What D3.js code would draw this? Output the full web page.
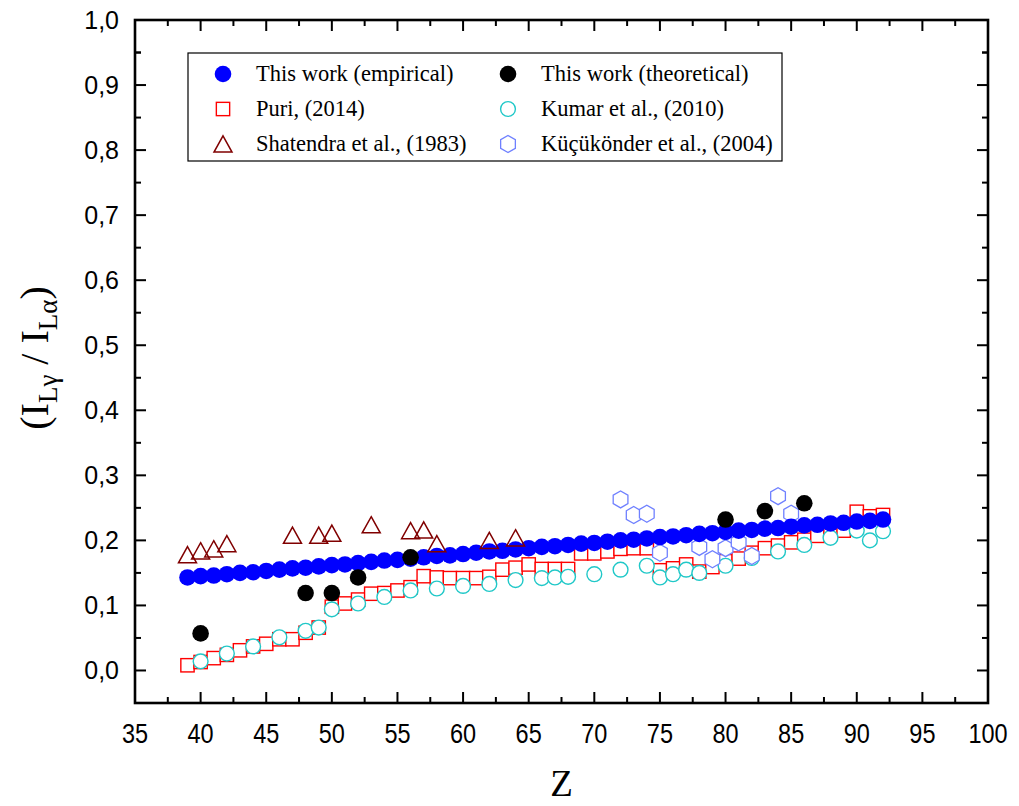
<!DOCTYPE html>
<meta charset="utf-8">
<script src="https://d3js.org/d3.v7.min.js"></script>
<style>
  body { margin: 0; background: #fff; }
</style>
<body>
<div id="draw"></div>
</body>
<script>

  // ---- data ----
  var empZ = [39,40,41,42,43,44,45,46,47,48,49,50,51,52,53,54,55,56,57,58,59,60,61,62,63,64,65,66,
              67,68,69,70,71,72,73,74,75,76,77,78,79,80,81,82,83,84,85,86,87,88,89,90,91,92];
  var empVal = [0.143,0.145,0.146,0.148,0.150,0.151,0.153,0.155,0.157,0.158,0.160,0.162,0.163,0.165,
                0.167,0.169,0.170,0.172,0.174,0.176,0.177,0.179,0.181,0.183,0.184,0.186,0.188,0.190,
                0.191,0.193,0.195,0.196,0.198,0.200,0.201,0.203,0.205,0.206,0.208,0.210,0.211,0.213,
                0.215,0.216,0.218,0.219,0.221,0.223,0.224,0.226,0.227,0.229,0.230,0.232];

  var theoZ = [40,48,50,52,56,80,83,86];
  var theoVal = [0.057,0.119,0.119,0.143,0.174,0.232,0.245,0.257];

  var puriZ = empZ;
  var puriVal = [0.008,0.013,0.019,0.024,0.031,0.037,0.041,0.048,0.048,0.058,0.066,0.098,0.103,0.109,
                 0.118,0.119,0.123,0.128,0.145,0.143,0.142,0.142,0.142,0.144,0.155,0.158,0.163,0.156,
                 0.156,0.156,0.180,0.180,0.183,0.187,0.188,0.188,0.154,0.157,0.163,0.152,0.159,0.168,
                 0.172,0.181,0.188,0.192,0.197,0.201,0.207,0.212,0.215,0.244,0.237,0.239];

  var kumarZ = [40,42,44,46,48,49,50,52,54,56,58,60,62,64,66,67,68,70,72,74,75,76,77,78,80,82,84,86,88,90,91,92];
  var kumarVal = [0.014,0.026,0.037,0.051,0.061,0.066,0.094,0.103,0.113,0.123,0.126,0.130,0.133,0.139,
                  0.142,0.143,0.144,0.148,0.155,0.161,0.143,0.148,0.155,0.150,0.161,0.173,0.183,0.193,
                  0.204,0.215,0.200,0.214];

  var shatZ = [39,40,41,42,47,49,50,53,56,57,58,62,64];
  var shatVal = [0.178,0.184,0.187,0.195,0.208,0.208,0.211,0.224,0.215,0.216,0.195,0.200,0.204];

  var kucZ = [72,73,74,75,78,79,80,81,82,84,85];
  var kucVal = [0.263,0.239,0.241,0.181,0.190,0.171,0.188,0.197,0.176,0.268,0.241];

  var xTicks = [35,40,45,50,55,60,65,70,75,80,85,90,95,100];
  var yTicks = [0,0.1,0.2,0.3,0.4,0.5,0.6,0.7,0.8,0.9,1.0];

  var seriesNames = ["This work (empirical)", "This work (theoretical)", "Puri, (2014)",
                     "Kumar et al., (2010)", "Shatendra et al., (1983)", "Küçükönder et al., (2004)"];

  // ---- layout ----
  var width = 1019, height = 806;
  var plot = {left: 135, right: 988, top: 20, bottom: 703};

  var svg = d3.select("#draw").append("svg")
    .attr("width", width).attr("height", height);

  var x = d3.scaleLinear().domain([35, 100]).range([plot.left, plot.right]);
  var y = d3.scaleLinear().domain([-0.05, 1.0]).range([plot.bottom, plot.top]);

  var zip = function(a, b){ return a.map(function(d, i){ return [d, b[i]]; }); };

  // marker shapes
  var triPath = function(s){
    var h = s * 0.9;
    return "M0," + (-h/2) + "L" + (s/2) + "," + (h/2) + "L" + (-s/2) + "," + (h/2) + "Z";
  };
  var hexPath = function(r){
    var p = [];
    for (var k = 0; k < 6; k++){
      var a = Math.PI/2 + k*Math.PI/3;
      p.push([r*Math.cos(a), r*Math.sin(a)]);
    }
    return "M" + p.map(function(q){ return q[0].toFixed(2) + "," + q[1].toFixed(2); }).join("L") + "Z";
  };

  var styles = {
    emp:  {shape: "circle", r: 8.3, fill: "#0000ff", stroke: "none"},
    theo: {shape: "circle", r: 8.3, fill: "#000000", stroke: "none"},
    puri: {shape: "square", s: 13.3, fill: "#ffffff", stroke: "#ff0000"},
    kum:  {shape: "circle", r: 7.4, fill: "#ffffff", stroke: "#20c8c8"},
    shat: {shape: "tri", s: 18, fill: "none", stroke: "#800000"},
    kuc:  {shape: "hex", r: 8.5, fill: "#ffffff", stroke: "#6f80ff"}
  };

  var drawMarker = function(g, st){
    if (st.shape === "circle"){
      g.append("circle").attr("r", st.r).attr("fill", st.fill)
        .attr("stroke", st.stroke).attr("stroke-width", 1.4);
    } else if (st.shape === "square"){
      g.append("rect").attr("x", -st.s/2).attr("y", -st.s/2).attr("width", st.s).attr("height", st.s)
        .attr("fill", st.fill).attr("stroke", st.stroke).attr("stroke-width", 1.4);
    } else if (st.shape === "tri"){
      g.append("path").attr("d", triPath(st.s)).attr("fill", st.fill)
        .attr("stroke", st.stroke).attr("stroke-width", 1.5);
    } else {
      g.append("path").attr("d", hexPath(st.r)).attr("fill", st.fill)
        .attr("stroke", st.stroke).attr("stroke-width", 1.3);
    }
  };

  var drawSeries = function(data, st){
    var g = svg.append("g");
    g.selectAll("g").data(data).enter().append("g")
      .attr("transform", function(d){ return "translate(" + x(d[0]) + "," + y(d[1]) + ")"; })
      .each(function(){ drawMarker(d3.select(this), st); });
  };

  drawSeries(zip(puriZ, puriVal), styles.puri);
  drawSeries(zip(kumarZ, kumarVal), styles.kum);
  drawSeries(zip(kucZ, kucVal), styles.kuc);
  drawSeries(zip(empZ, empVal), styles.emp);
  drawSeries(zip(theoZ, theoVal), styles.theo);
  drawSeries(zip(shatZ, shatVal), styles.shat);

  // ---- axes / frame ----
  var fmt = function(d){ return d3.format(".1f")(d).replace(".", ","); };
  var xMinor = xTicks.slice(0, -1).map(function(d){ return d + 2.5; });
  var yMinor = yTicks.map(function(d){ return d - 0.05; }).concat([0.95]).filter(function(d){ return d > -0.049 && d < 1; });

  var axes = svg.append("g").attr("stroke", "#000").attr("stroke-width", 2);

  // ticks point inward on all four sides
  xTicks.forEach(function(t){
    axes.append("line").attr("x1", x(t)).attr("x2", x(t)).attr("y1", plot.bottom).attr("y2", plot.bottom - 11);
    axes.append("line").attr("x1", x(t)).attr("x2", x(t)).attr("y1", plot.top).attr("y2", plot.top + 11);
  });
  xMinor.forEach(function(t){
    axes.append("line").attr("x1", x(t)).attr("x2", x(t)).attr("y1", plot.bottom).attr("y2", plot.bottom - 6);
    axes.append("line").attr("x1", x(t)).attr("x2", x(t)).attr("y1", plot.top).attr("y2", plot.top + 6);
  });
  yTicks.forEach(function(t){
    axes.append("line").attr("y1", y(t)).attr("y2", y(t)).attr("x1", plot.left).attr("x2", plot.left + 11);
    axes.append("line").attr("y1", y(t)).attr("y2", y(t)).attr("x1", plot.right).attr("x2", plot.right - 11);
  });
  yMinor.forEach(function(t){
    axes.append("line").attr("y1", y(t)).attr("y2", y(t)).attr("x1", plot.left).attr("x2", plot.left + 6);
    axes.append("line").attr("y1", y(t)).attr("y2", y(t)).attr("x1", plot.right).attr("x2", plot.right - 6);
  });

  svg.append("rect")
    .attr("x", plot.left).attr("y", plot.top)
    .attr("width", plot.right - plot.left).attr("height", plot.bottom - plot.top)
    .attr("fill", "none").attr("stroke", "#000").attr("stroke-width", 2.6);

  // tick labels
  svg.append("g").selectAll("text").data(xTicks).enter().append("g")
    .attr("transform", function(d){ return "translate(" + x(d) + "," + (plot.bottom + 40) + ")"; })
    .append("text")
    .attr("transform", "scale(0.84,1)")
    .attr("text-anchor", "middle")
    .style("font-family", "'Liberation Sans', Arial, sans-serif")
    .style("font-size", "28px")
    .text(function(d){ return d; });

  svg.append("g").selectAll("text").data(yTicks).enter().append("text")
    .attr("x", plot.left - 16)
    .attr("y", function(d){ return y(d) + 9; })
    .attr("text-anchor", "end")
    .style("font-family", "'Liberation Sans', Arial, sans-serif")
    .style("font-size", "25px")
    .text(fmt);

  // axis titles
  svg.append("text")
    .attr("x", (plot.left + plot.right)/2).attr("y", 796)
    .attr("text-anchor", "middle")
    .style("font-family", "'Liberation Serif', 'Times New Roman', serif")
    .style("font-size", "37px")
    .text("Z");

  var yt = svg.append("text")
    .attr("transform", "translate(48,358) rotate(-90)")
    .attr("text-anchor", "middle")
    .style("font-family", "'Liberation Serif', 'Times New Roman', serif")
    .style("font-size", "40px");
  yt.append("tspan").text("(I");
  yt.append("tspan").attr("dy", 9).style("font-size", "27px").text("Lγ");
  yt.append("tspan").attr("dy", -9).text(" / I");
  yt.append("tspan").attr("dy", 9).style("font-size", "27px").text("Lα");
  yt.append("tspan").attr("dy", -9).text(")");

  // ---- legend ----
  var legend = svg.append("g");
  legend.append("rect")
    .attr("x", 188).attr("y", 53).attr("width", 594).attr("height", 108)
    .attr("fill", "#fff").attr("stroke", "#000").attr("stroke-width", 1.2);

  var legendStyles = [styles.emp, styles.theo, styles.puri, styles.kum, styles.shat, styles.kuc];
  var colX = [223, 508], rowY = [74, 109, 144];
  seriesNames.forEach(function(name, i){
    var cx = colX[i % 2], cy = rowY[Math.floor(i / 2)];
    var g = legend.append("g").attr("transform", "translate(" + cx + "," + cy + ")");
    drawMarker(g, legendStyles[i]);
    legend.append("text")
      .attr("x", cx + 33).attr("y", cy + 7)
      .style("font-family", "'Liberation Serif', 'Times New Roman', serif")
      .style("font-size", "22.5px")
      .text(name);
  });

</script>
</html>
